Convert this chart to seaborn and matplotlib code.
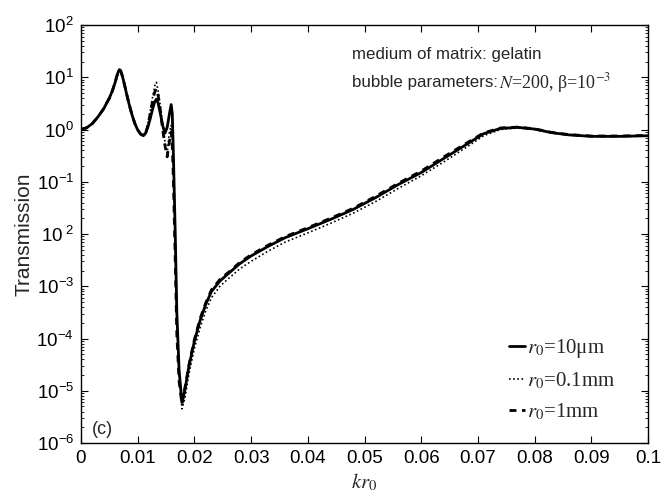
import matplotlib
matplotlib.use("Agg")
import matplotlib.pyplot as plt
import seaborn as sns
from matplotlib.ticker import FixedLocator, FixedFormatter, LogLocator, NullFormatter
from matplotlib.lines import Line2D

# wavenumber x bubble radius
kr = [0.0, 0.001, 0.002, 0.003, 0.004, 0.005, 0.0055, 0.006, 0.0063, 0.0066,
      0.0068, 0.0070, 0.0073, 0.0077, 0.008, 0.0085, 0.009, 0.0095, 0.010, 0.0105,
      0.011, 0.0114, 0.0118, 0.0122, 0.0126, 0.013, 0.0133, 0.0136, 0.014, 0.0144,
      0.0148, 0.0152, 0.0156, 0.0159, 0.0161, 0.0163, 0.0166, 0.0169, 0.0173, 0.0178,
      0.0183, 0.0187, 0.019, 0.0195, 0.020, 0.021, 0.022, 0.023, 0.0245, 0.026,
      0.028, 0.030, 0.033, 0.036, 0.040, 0.044, 0.048, 0.052, 0.056, 0.060,
      0.064, 0.068, 0.071, 0.074, 0.077, 0.080, 0.083, 0.086, 0.090, 0.095,
      0.100]

# transmission for r0 = 10 um
t_10um = [1.0, 1.08, 1.3, 1.75, 2.5, 4.0, 5.4, 7.8, 10.3, 13.0,
          14.0, 13.2, 10.5, 7.0, 5.0, 3.0, 1.9, 1.3, 0.98, 0.82,
          0.76, 0.85, 1.12, 1.6, 2.4, 3.4, 3.8, 3.2, 2.0, 1.2,
          0.85, 1.1, 2.0, 3.0, 2.0, 0.32, 1.3e-2, 3.2e-4, 2.5e-5, 6.0e-6,
          1.0e-5, 1.8e-5, 2.8e-5, 5.0e-5, 8.9e-5, 2.2e-4, 4.5e-4, 7.9e-4, 1.26e-3, 1.75e-3,
          2.7e-3, 3.8e-3, 5.8e-3, 8.5e-3, 1.26e-2, 1.9e-2, 2.95e-2, 5.0e-2, 8.9e-2, 0.15,
          0.28, 0.52, 0.83, 1.05, 1.10, 1.02, 0.87, 0.79, 0.74, 0.74,
          0.76]

# transmission for r0 = 0.1 mm
t_01mm = [1.0, 1.08, 1.3, 1.75, 2.5, 4.0, 5.4, 7.8, 10.3, 13.0,
          14.0, 13.2, 10.5, 7.0, 5.0, 3.0, 1.9, 1.3, 0.98, 0.82,
          0.78, 0.9, 1.3, 2.2, 4.0, 6.8, 8.0, 5.5, 2.8, 1.3,
          0.6, 0.35, 0.9, 1.2, 0.8, 0.2, 1.0e-2, 2.5e-4, 2.0e-5, 4.5e-6,
          7.0e-6, 1.25e-5, 2.0e-5, 3.6e-5, 6.5e-5, 1.6e-4, 3.4e-4, 6.0e-4, 1.0e-3, 1.4e-3,
          2.15e-3, 3.0e-3, 4.7e-3, 7.0e-3, 1.05e-2, 1.6e-2, 2.5e-2, 4.2e-2, 7.5e-2, 0.13,
          0.24, 0.46, 0.76, 1.0, 1.07, 1.0, 0.86, 0.78, 0.73, 0.73,
          0.75]

# transmission for r0 = 1 mm
t_1mm = [1.0, 1.08, 1.3, 1.75, 2.5, 4.0, 5.4, 7.8, 10.3, 13.0,
         14.0, 13.2, 10.5, 7.0, 5.0, 3.0, 1.9, 1.3, 0.98, 0.82,
         0.76, 0.85, 1.2, 2.0, 3.4, 5.2, 6.0, 4.5, 2.3, 1.0,
         0.5, 0.3, 0.6, 0.9, 0.5, 0.1, 4.0e-3, 1.2e-4, 1.5e-5, 5.5e-6,
         1.1e-5, 1.9e-5, 3.0e-5, 5.4e-5, 9.5e-5, 2.4e-4, 4.8e-4, 8.5e-4, 1.35e-3, 1.85e-3,
         2.85e-3, 4.0e-3, 6.1e-3, 8.9e-3, 1.32e-2, 2.0e-2, 3.1e-2, 5.3e-2, 9.4e-2, 0.16,
         0.30, 0.55, 0.86, 1.07, 1.11, 1.03, 0.88, 0.80, 0.75, 0.75,
         0.77]

series_labels = [r"$r_0$=10μm", r"$r_0$=0.1mm", r"$r_0$=1mm"]

x_ticks = [0, 0.01, 0.02, 0.03, 0.04, 0.05, 0.06, 0.07, 0.08, 0.09, 0.1]
x_tick_labels = ["0", "0.01", "0.02", "0.03", "0.04", "0.05", "0.06", "0.07",
                 "0.08", "0.09", "0.1"]
y_ticks = [1e-6, 1e-5, 1e-4, 1e-3, 1e-2, 1e-1, 1e0, 1e1, 1e2]
y_tick_labels = [r"$\mathregular{10^{-6}}$", r"$\mathregular{10^{-5}}$",
                 r"$\mathregular{10^{-4}}$", r"$\mathregular{10^{-3}}$",
                 r"$\mathregular{10^{\ 2}}$", r"$\mathregular{10^{-1}}$",
                 r"$\mathregular{10^{0}}$", r"$\mathregular{10^{1}}$",
                 r"$\mathregular{10^{2}}$"]

sns.set_theme(style="ticks")
plt.rcParams.update({
    "font.family": ["Liberation Sans", "DejaVu Sans"],
    "mathtext.fontset": "stix",
    "axes.linewidth": 1.0,
    "axes.edgecolor": "black",
})

fig = plt.figure(figsize=(6.68, 4.96), dpi=100)
ax = fig.add_axes([81 / 668, 53 / 496, 567 / 668, 418 / 496])

solid_style = dict(color="black", lw=2.0, linestyle="-")
dotted_style = dict(color="black", lw=1.2, linestyle=(0, (1, 1.5)))
dashed_style = dict(color="black", lw=2.0, linestyle=(0, (2.5, 2)))

sns.lineplot(x=kr, y=t_10um, ax=ax, estimator=None, sort=False,
             solid_joinstyle="round", **solid_style)
sns.lineplot(x=kr, y=t_01mm, ax=ax, estimator=None, sort=False, **dotted_style)
sns.lineplot(x=kr, y=t_1mm, ax=ax, estimator=None, sort=False, **dashed_style)

ax.set_yscale("log")
ax.set_xlim(0, 0.1)
ax.set_ylim(1e-6, 1e2)
ax.xaxis.set_major_locator(FixedLocator(x_ticks))
ax.xaxis.set_major_formatter(FixedFormatter(x_tick_labels))
ax.yaxis.set_major_locator(FixedLocator(y_ticks))
ax.yaxis.set_major_formatter(FixedFormatter(y_tick_labels))
ax.yaxis.set_minor_locator(LogLocator(base=10, subs=range(2, 10), numticks=20))
ax.yaxis.set_minor_formatter(NullFormatter())

ax.tick_params(which="both", direction="in", top=True, right=True, colors="black")
ax.tick_params(which="major", length=5, width=0.8, labelsize=13.5, pad=5)
ax.tick_params(which="minor", length=2.5, width=0.6)
for s in ax.spines.values():
    s.set_visible(True)
    s.set_color("black")

ax.set_xlabel(r"$kr_0$", fontsize=15, labelpad=3)
ax.set_ylabel("Transmission", fontsize=15, labelpad=2)

ax.text(0.0478, 27.0, "medium of matrix: gelatin", fontsize=12.2, va="center", ha="left")
ax.text(0.0478, 7.9, "bubble parameters:", fontsize=12.2, va="center", ha="left")
ax.text(0.0737, 7.9, r"$N$=200, β=10$^{-3}$", fontsize=13,
        family=["Liberation Serif", "DejaVu Serif"], va="center", ha="left")
ax.text(0.002, 1.8e-6, "(c)", fontsize=13, va="center", ha="left")

handles = [Line2D([], [], **solid_style),
           Line2D([], [], **dotted_style),
           Line2D([], [], **dashed_style)]
ax.legend(handles, series_labels, loc="lower right", bbox_to_anchor=(0.975, 0.005),
          frameon=False, handlelength=0.75, handletextpad=0.1, labelspacing=0.5,
          prop={"family": ["Liberation Serif", "DejaVu Serif"], "size": 15})

fig.savefig("out.png", dpi=100)
